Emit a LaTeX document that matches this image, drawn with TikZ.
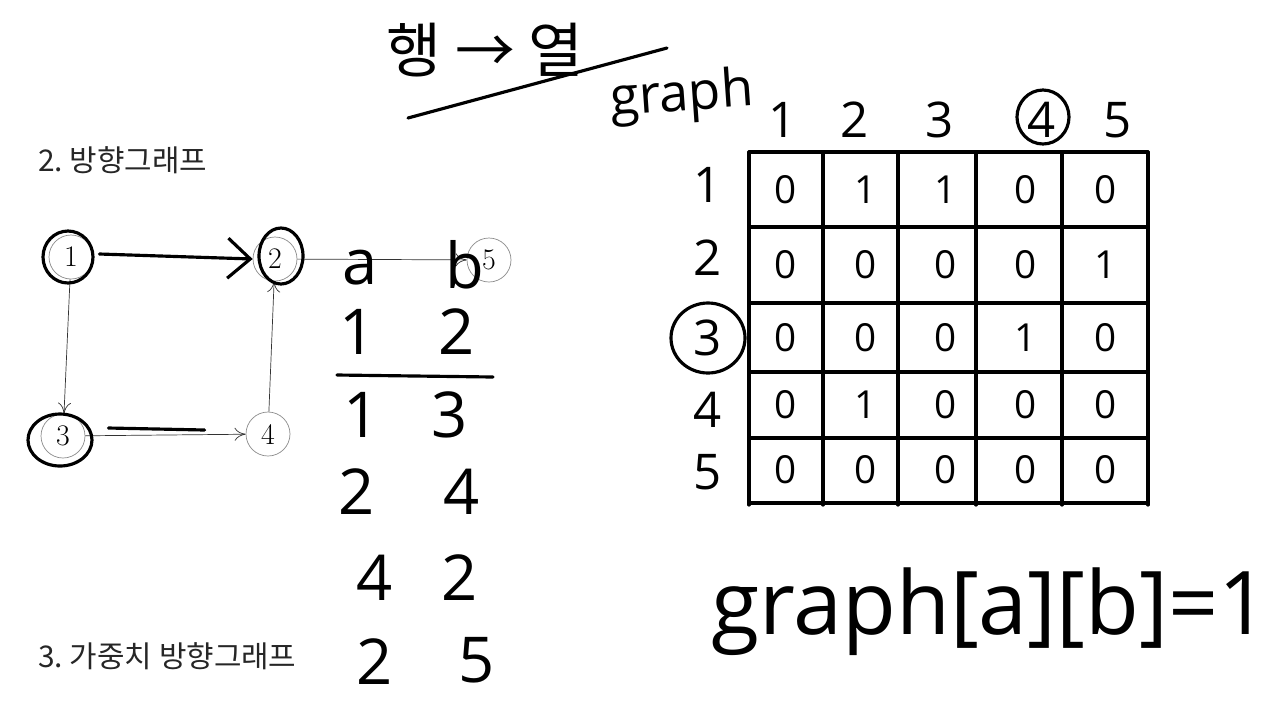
\documentclass[tikz,border=0pt]{standalone}
\usepackage{fontspec}
\setsansfont{Open Sans}
\newfontfamily\hangul{Noto Sans CJK KR}
\usetikzlibrary{positioning, arrows.meta}

\begin{document}
\begin{tikzpicture}[x=0.02cm, y=-0.02cm]
    \tikzset{
        vertex/.style={circle, draw=black!45, thin, minimum size=0.88cm,
            inner sep=0pt, font=\fontsize{17}{17}\selectfont},
        edge/.style={draw=black!80, thin, -{To[length=2.2mm, width=2.6mm]}},
        pen/.style={line width=1.8pt, line cap=round, line join=round},
        hand/.style={font=\sffamily\fontsize{36}{36}\selectfont, inner sep=0pt},
        handsmall/.style={font=\sffamily\fontsize{22}{22}\selectfont, inner sep=0pt},
        heading/.style={font=\hangul\fontsize{17}{17}\selectfont, anchor=west,
            inner sep=0pt, text=black!85}
    }
    \useasboundingbox[fill=white] (0,0) rectangle (1288,701);
    % slide text
    \node[heading] (head2) at (38,160) {2.~방향그래프};
    \node[heading] (head3) at (38,656) {3.~가중치~방향그래프};
    % directed graph
    \node[vertex] (n1) at (71,257) {1};
    \node[vertex] (n2) at (275,259) {2};
    \node[vertex] (n5) at (489,260) {5};
    \node[vertex] (n3) at (63,436) {3};
    \node[vertex] (n4) at (268,434) {4};
    \draw[edge] (n1) -- (n3);
    \draw[edge] (n3) -- (n4);
    \draw[edge] (n4) -- (n2);
    \draw[edge] (n2) -- (n5);
    % pen marks on the graph
    \draw[pen, -{Straight Barb[length=4.5mm, width=8mm]}] ([shift={(6,-3)}]n1.east) -- (n2.west);
    \draw[pen] ([shift={(-3,0)}]n1.center) ellipse [x radius=25, y radius=26];
    \draw[pen] ([shift={(6,-3)}]n2.center) ellipse [x radius=22, y radius=28];
    \draw[pen] ([shift={(-3,4)}]n3.center) ellipse [x radius=32, y radius=26];
    \draw[pen] ([shift={(23,-8)}]n3.east) -- ([shift={(-41,-4)}]n4.west);
    % edge list
    \node[hand] (cola) at (360,268) {a};
    \node[hand] (colb) at (465,265) {b};
    \node[hand] (e1a) at (358,332) {1};
    \node[hand] (e1b) at (457,332) {2};
    \draw[pen] (337,375) -- (493,377);
    \node[hand] (e2a) at (362,415) {1};
    \node[hand] (e2b) at (450,415) {3};
    \node[hand] (e3a) at (357,492) {2};
    \node[hand] (e3b) at (462,492) {4};
    \node[hand] (e4a) at (375,578) {4};
    \node[hand] (e4b) at (460,578) {2};
    \node[hand] (e5a) at (375,662) {2};
    \node[hand] (e5b) at (477,660) {5};
    % title strokes
    \node[font=\hangul\fontsize{34}{34}\selectfont, inner sep=0pt] (rowcol) at (485,50) {행 → 열};
    \coordinate (ulstart) at (408,118);
    \coordinate (ulend) at (667,48);
    \draw[pen] (ulstart) -- (ulend);
    \node[hand, font=\sffamily\fontsize{30}{30}\selectfont, rotate=4] (gname) at (682,97) {graph};
    % adjacency matrix
    \foreach \c in {749,823,898,976,1062,1148}
        \draw[pen] (\c,152) -- (\c,505);
    \foreach \r in {152,227,303,372,438,503}
        \draw[pen] (749,\r) -- (1148,\r);
    \foreach \x/\t in {783/1, 855/2, 940/3, 1042/4, 1118/5}
        \node[handsmall, font=\sffamily\fontsize{28}{28}\selectfont] (top\t) at (\x,120) {\t};
    \foreach \y/\t in {185/1, 258/2, 338/3, 410/4, 472/5}
        \node[handsmall, font=\sffamily\fontsize{28}{28}\selectfont] (side\t) at (708,\y) {\t};
    \foreach \y/\vals [count=\i] in {190/{0,1,1,0,0}, 265/{0,0,0,0,1},
            338/{0,0,0,1,0}, 405/{0,1,0,0,0}, 470/{0,0,0,0,0}}
        \foreach \v [count=\j] in \vals
            \node[handsmall] (cell\i\j) at ({706+80*\j},\y) {\v};
    \draw[pen] ([shift={(1,-3)}]top4.center) ellipse [x radius=26, y radius=27];
    \draw[pen] (side3.center) ellipse [x radius=37, y radius=35];
    % formula
    \node[hand, font=\sffamily\fontsize{50}{50}\selectfont] (formula) at (990,612) {graph[a][b]=1};
\end{tikzpicture}
\end{document}
